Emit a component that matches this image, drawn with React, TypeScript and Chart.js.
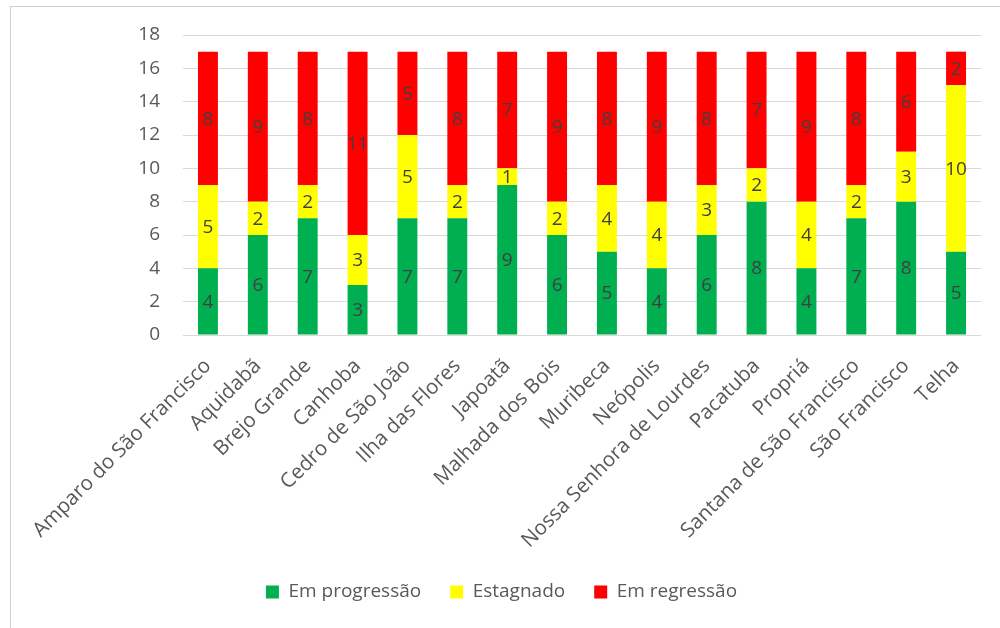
import { useEffect, useRef } from "react";
import { Chart, registerables } from "chart.js";

Chart.register(...registerables);

const categories = [
  "Amparo do São Francisco",
  "Aquidabã",
  "Brejo Grande",
  "Canhoba",
  "Cedro de São João",
  "Ilha das Flores",
  "Japoatã",
  "Malhada dos Bois",
  "Muribeca",
  "Neópolis",
  "Nossa Senhora de Lourdes",
  "Pacatuba",
  "Propriá",
  "Santana de São Francisco",
  "São Francisco",
  "Telha",
];

const emProgressao = [4, 6, 7, 3, 7, 7, 9, 6, 5, 4, 6, 8, 4, 7, 8, 5];
const estagnado = [5, 2, 2, 3, 5, 2, 1, 2, 4, 4, 3, 2, 4, 2, 3, 10];
const emRegressao = [8, 9, 8, 11, 5, 8, 7, 9, 8, 9, 8, 7, 9, 8, 6, 2];

const seriesNames = ["Em progressão", "Estagnado", "Em regressão"];
const seriesColors = ["#00B050", "#FFFF00", "#FF0000"];

const yMin = 0;
const yMax = 18;
const yStep = 2;

const FONT = "'Open Sans', sans-serif";
const FONT_SIZE = 19;
const XFONT_SIZE = 20.5;

const segmentLabels = {
  id: "segmentLabels",
  afterDatasetsDraw(chart: any) {
    const ctx = chart.ctx;
    ctx.save();
    ctx.font = `${FONT_SIZE}px ${FONT}`;
    ctx.fillStyle = "#404040";
    ctx.textAlign = "center";
    ctx.textBaseline = "middle";
    chart.data.datasets.forEach((ds: any, i: number) => {
      const meta = chart.getDatasetMeta(i);
      meta.data.forEach((el: any, j: number) => {
        const p = el.getCenterPoint();
        ctx.fillText(String(ds.data[j]), p.x, p.y + 1);
      });
    });
    ctx.restore();
  },
};

const legendPlace = {
  id: "legendPlace",
  afterLayout(chart: any) {
    const l = chart.legend;
    if (!l) return;
    const dy = -16.5;
    const dx = 22;
    l.top += dy;
    l.bottom += dy;
    l.left += dx;
  },
};

export default function App() {
  const ref = useRef<HTMLCanvasElement | null>(null);

  useEffect(() => {
    if (!ref.current) return;
    const chart = new Chart(ref.current, {
      type: "bar",
      data: {
        labels: categories,
        datasets: [emProgressao, estagnado, emRegressao].map((d, i) => ({
          label: seriesNames[i],
          data: d,
          backgroundColor: seriesColors[i],
          borderWidth: 0,
          barPercentage: 0.4,
          categoryPercentage: 1,
        })),
      },
      options: {
        animation: false,
        responsive: false,
        layout: { padding: { top: 35, right: 19, left: 0, bottom: 0 } },
        plugins: {
          tooltip: { enabled: false },
          legend: {
            position: "bottom",
            labels: {
              font: { family: FONT, size: FONT_SIZE },
              color: "#595959",
              boxWidth: 13,
              boxHeight: 13,
              padding: 29,
            },
          },
        },
        scales: {
          x: {
            stacked: true,
            grid: { display: false },
            border: { display: false },
            ticks: {
              autoSkip: false,
              maxRotation: 45,
              minRotation: 45,
              font: { family: FONT, size: XFONT_SIZE },
              color: "#595959",
              padding: 11,
            },
            afterFit: (s: any) => {
              s.height = 235;
            },
          },
          y: {
            stacked: true,
            min: yMin,
            max: yMax,
            ticks: {
              stepSize: yStep,
              font: { family: FONT, size: FONT_SIZE },
              color: "#595959",
              padding: 23,
            },
            grid: { color: "#d9d9d9", lineWidth: 1, drawTicks: false },
            border: { display: false },
            afterFit: (s: any) => {
              s.width = 183;
            },
          },
        },
      },
      plugins: [segmentLabels, legendPlace],
    });
    return () => chart.destroy();
  }, []);

  return (
    <div style={{ position: "fixed", left: 0, top: 0, width: 1000, height: 628, background: "#fff" }}>
      <div
        style={{
          position: "absolute",
          left: 10,
          top: 6,
          width: 1000,
          height: 640,
          borderLeft: "1px solid #d0d0d0",
          borderTop: "1px solid #d0d0d0",
        }}
      />
      <canvas ref={ref} width={1000} height={628} style={{ position: "absolute", left: 0, top: 0 }} />
    </div>
  );
}
